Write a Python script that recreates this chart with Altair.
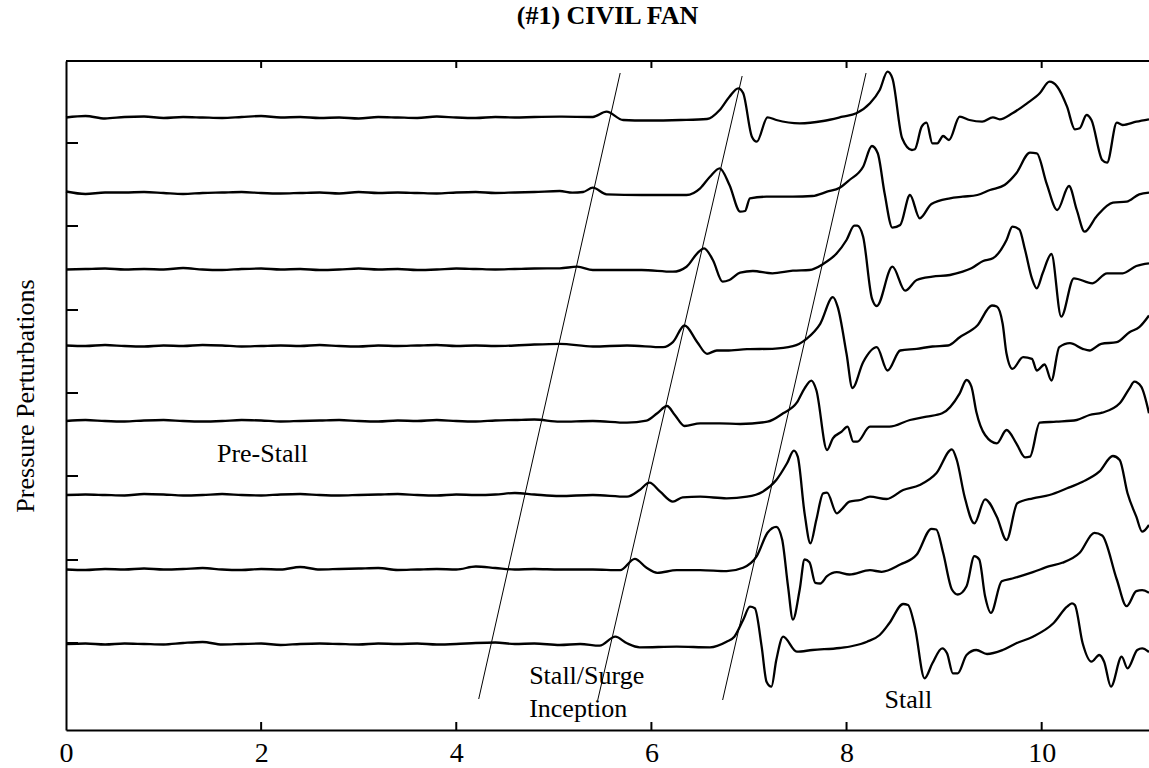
import altair as alt
import pandas as pd

TITLE = "(#1) CIVIL FAN"
Y_TITLE = "Pressure Perturbations"
X_TICKS = [0, 2, 4, 6, 8, 10]
TOP_TICKS = [2, 4, 6, 8, 10]
Y_TICKS = [87, 170, 254, 337, 420, 504, 587]
# vertical offset of each trace (bottom trace first)
OFFSETS = [86, 160.5, 235, 309, 384, 460.5, 537, 612.5]

# pre-stall part, shared time grid
FLAT_X = [0.0, 0.2, 0.4, 0.6, 0.8, 1.0, 1.2, 1.4, 1.6, 1.8, 2.0, 2.2, 2.4,
          2.6, 2.8, 3.0, 3.2, 3.4, 3.6, 3.8, 4.0, 4.2, 4.4, 4.6, 4.8]
T0_FLAT = [0, 0.5, -0.5, 0.5, 0, -0.5, 1.0, 2.0, -0.5, 0, 0.5, -1, 0, 0.5, 0, -0.5, 0.5, 0, 0.5, -0.5, 0, 1.0, 1.5, 0, 0.5]
T1_FLAT = [0, -0.5, 0.5, 0, 1, 0, 0.5, 1.5, 0, -0.5, 0.5, 0, 2.5, 0, 0.5, 1, 1.5, -0.5, 0, 0.5, 0, 3.0, 1.5, 0, 0.5]
T2_FLAT = [0, 0.5, 0, -0.5, 1, 0.5, -0.5, 0, 1, 0, -0.5, 0.5, 1, 0, -0.5, 0, 0.5, 1, 0, -0.5, 0.5, 0, 0.5, 2.0, 0.5]
T3_FLAT = [0, 1, 0, -0.5, 0.5, 1, 0, -0.5, 0, 1, 0.5, -0.5, 0, 0.5, 1, 0, -0.5, 0.5, 0, 1, 0, -0.5, 0.5, 1, 1.5]
T4_FLAT = [0.5, 0, 1, 0, -0.5, 0.5, 0, 1, 0.5, -0.5, 0, 0.5, 0, 1, 0, -0.5, 0.5, 0, 0.5, 1, 0, 0.5, 0, 0.5, 1.5]
T5_FLAT = [0, 0.5, 1, 0, 0.5, 0, 1.5, 0, -0.5, 0.5, 1, 0, 0.5, -0.5, 0, 1, 0, 0.5, -0.5, 0, 1, 0.5, 0, 0.5, 1.0]
T6_FLAT = [1.5, -1, 0.5, 0.5, 1, 0, -1, 0, 0.5, 1, 0, -0.5, 0, 0.5, -0.5, 1, 0, 0.5, 0, -0.5, 0.5, 1, 0, 0.5, 1]
T7_FLAT = [0, 1.5, -1, 0.5, 1, -0.5, 0.5, 0, -0.5, 0.5, 1.5, 0, 0.5, -0.5, 0, -1, 0.5, 0, -0.5, 1, 0, -0.5, 0.5, 0, 0.5]

# inception and stall part: (time, perturbation)
T0_PTS = [(5.06, -1), (5.27, 0), (5.47, -1.7), (5.63, 7.3), (5.75, 0.7), (5.88, -3.3), (6.26, -2.7),
          (6.60, -3.3), (6.77, 2.3), (6.85, 7.3), (6.94, 24), (7.01, 37.3), (7.06, 35.7), (7.13, -2.7),
          (7.18, -37.7), (7.23, -42.7), (7.28, -16), (7.35, 7.3), (7.49, -7.7), (7.65, -6), (7.93, -4),
          (8.06, -2), (8.21, 2.3), (8.34, 9), (8.44, 21), (8.58, 40), (8.63, 39), (8.70, 17.3),
          (8.80, -34.3), (8.88, -19.3), (8.98, -4.3), (9.03, -9.3), (9.09, -29.3), (9.14, -29.3),
          (9.23, -11), (9.33, -6), (9.44, -10), (9.60, -6), (9.74, 0.7), (9.91, 7.3), (10.12, 20.7),
          (10.26, 37.3), (10.31, 40.7), (10.34, 39), (10.42, 0.7), (10.51, -17.7), (10.59, -11),
          (10.64, -17.7), (10.71, -42.7), (10.82, -12.7), (10.88, -24.3), (10.98, -6), (11.03, -4.3),
          (11.10, -8)]
T1_PTS = [(5.06, 0), (5.40, 0), (5.68, -0.7), (5.83, 10.7), (5.95, 1.7), (6.06, -3.3), (6.26, -0.7),
          (6.50, -0.7), (6.77, -1.7), (6.94, 1.7), (7.08, 13.3), (7.19, 36.7), (7.28, 42.7), (7.34, 30),
          (7.40, -16.7), (7.45, -50), (7.52, -20), (7.57, 10), (7.62, 7.3), (7.68, -13.3), (7.73, -14),
          (7.80, -6.7), (7.90, -2.7), (8.03, -5), (8.24, -0.7), (8.36, -2.3), (8.55, 5), (8.72, 15),
          (8.87, 40.7), (8.92, 40), (8.99, 16.7), (9.08, -20), (9.14, -25), (9.23, -16.7), (9.31, 13.3),
          (9.36, 10), (9.42, -26.7), (9.48, -43.3), (9.59, -11.7), (9.70, -9), (9.91, -2.7), (10.08, 3.3),
          (10.21, 6.7), (10.39, 16.7), (10.54, 36.7), (10.62, 34), (10.77, -10), (10.87, -36.7),
          (10.97, -21.7), (11.03, -20.7), (11.10, -23.3)]
T2_PTS = [(5.06, -1), (5.40, 0), (5.75, -1.7), (5.88, 5), (5.98, 12.3), (6.09, 3.3), (6.22, -6.7),
          (6.32, -2.3), (6.50, -1.7), (6.77, -3.3), (6.98, -1.7), (7.14, 3.3), (7.28, 15), (7.39, 31.7),
          (7.46, 44.3), (7.50, 38.3), (7.57, -18.3), (7.63, -48.3), (7.69, -25), (7.76, 1.7), (7.80, 2.3),
          (7.90, -18.3), (7.96, -13.3), (8.03, -6.7), (8.14, -5), (8.24, -1.7), (8.41, -4), (8.58, 5),
          (8.75, 10), (8.92, 21.7), (9.08, 45.7), (9.13, 35), (9.21, -1.7), (9.31, -28.3), (9.42, -4.3),
          (9.54, -21.7), (9.64, -45), (9.75, -8.3), (9.91, -3.3), (10.08, 0), (10.26, 6.7), (10.42, 13.3),
          (10.59, 23.3), (10.73, 39), (10.80, 35), (10.88, 1.7), (10.97, -21.7), (11.03, -36.7),
          (11.10, -30)]
T3_PTS = [(5.06, -0.7), (5.40, 0), (5.75, -1.7), (5.95, 0.3), (6.06, 7.7), (6.16, 15), (6.24, 6),
          (6.34, -5), (6.50, -2.3), (6.70, -2.3), (6.91, -3), (7.19, -0.7), (7.35, 7.7), (7.49, 18.3),
          (7.57, 32.7), (7.64, 40.3), (7.69, 31), (7.80, -29), (7.86, -17.3), (7.95, -10.7), (8.01, -5.7),
          (8.07, -20.7), (8.11, -20.7), (8.24, -5.7), (8.44, -5.7), (8.65, 1), (8.82, 4.3), (8.98, 7.7),
          (9.16, 27.7), (9.23, 41), (9.28, 34.3), (9.33, 9.3), (9.42, -14), (9.54, -22.3), (9.64, -9),
          (9.74, -22.3), (9.83, -36.3), (9.88, -35.7), (9.98, -1.7), (10.15, -0.7), (10.36, 1),
          (10.49, 6), (10.62, 8.3), (10.80, 17.7), (10.90, 32.7), (10.95, 39.3), (11.02, 34.3),
          (11.10, 7.7)]
T4_PTS = [(5.06, 2.2), (5.40, -0.5), (5.75, 0.5), (6.12, -1.2), (6.22, 3.8), (6.34, 20.5), (6.47, 3.8),
          (6.57, -7.8), (6.67, -4.5), (6.77, -4.5), (6.98, -3.2), (7.24, -2.8), (7.45, -0.2), (7.59, 7.2),
          (7.73, 22.2), (7.86, 48.8), (7.91, 38.8), (8.00, -7.8), (8.06, -42), (8.17, -16.2),
          (8.31, -1.2), (8.42, -24.5), (8.55, -4.5), (8.72, -2.8), (8.88, -0.5), (9.04, 0.5),
          (9.16, 8.8), (9.34, 20.5), (9.49, 40.5), (9.54, 39.5), (9.60, 22.2), (9.64, -7.8),
          (9.70, -22.8), (9.81, -11.2), (9.90, -12.8), (9.95, -24.5), (10.03, -18.5), (10.10, -34.5),
          (10.18, -1.2), (10.29, 2.8), (10.42, -2.8), (10.49, -4.5), (10.61, 2.2), (10.77, 3.8),
          (10.90, 13.8), (11.00, 18.8), (11.10, 30.5)]
T5_PTS = [(5.06, 1.2), (5.24, 2.8), (5.40, -0.5), (5.90, -0.5), (6.22, -2.2), (6.36, 2.8), (6.47, 16.2),
          (6.54, 21.2), (6.63, 9.5), (6.73, -12.2), (6.80, -10.5), (6.91, -3.2), (7.04, -1.5),
          (7.24, -3.8), (7.45, -1.2), (7.62, -0.5), (7.76, 5.5), (7.90, 16.2), (8.00, 29.5),
          (8.08, 43.8), (8.11, 43.8), (8.17, 32.8), (8.26, -28.8), (8.31, -36.5), (8.47, 2.8),
          (8.60, -21.2), (8.72, -10.5), (8.88, -7.2), (9.06, -5.5), (9.19, -2.2), (9.28, 1.2),
          (9.40, 8.5), (9.50, 11.2), (9.64, 29.5), (9.70, 42.8), (9.77, 40.2), (9.83, 19.5),
          (9.90, -8.8), (9.95, -18.8), (10.01, -3.8), (10.10, 15.5), (10.20, -47.2), (10.33, -8.8),
          (10.52, -13.8), (10.67, -3.8), (10.83, -3.8), (10.97, 3.5), (11.10, 6.2)]
T6_PTS = [(5.06, 2), (5.19, 0.3), (5.30, 1), (5.40, 5.3), (5.54, -1.3), (5.90, -2), (6.36, -2),
          (6.50, 4.7), (6.60, 16.3), (6.70, 24.7), (6.80, 8), (6.91, -18.7), (6.96, -18), (7.01, -5.3),
          (7.18, -3.7), (7.45, -3.7), (7.65, -3), (7.80, 1.3), (7.93, 5.3), (8.03, 13), (8.17, 26.3),
          (8.26, 47), (8.32, 39.7), (8.39, -0.3), (8.47, -34.7), (8.55, -32), (8.65, -2), (8.75, -25.3),
          (8.87, -11), (9.06, -5.3), (9.19, -3.7), (9.34, -2), (9.47, 3), (9.62, 8), (9.74, 19.7),
          (9.88, 40.3), (9.95, 39.7), (10.05, 9.7), (10.16, -17), (10.28, 7), (10.36, -17),
          (10.44, -38.7), (10.56, -23.7), (10.73, -9.7), (10.87, -8.7), (11.00, -1.3), (11.10, 0.3)]
T7_PTS = [(5.06, 0.8), (5.40, 0.5), (5.54, 5.8), (5.71, -2.5), (5.95, -3), (6.30, -2.5), (6.57, -1.5),
          (6.70, 7.5), (6.80, 20.8), (6.89, 29.2), (6.94, 24.5), (7.03, -19.2), (7.08, -24.2),
          (7.19, 0.2), (7.28, -2.5), (7.52, -5.8), (7.76, -3.5), (7.96, 0.8), (8.10, 4.2), (8.24, 14.2),
          (8.34, 27.5), (8.42, 45.8), (8.47, 39.2), (8.57, -20.8), (8.67, -32.5), (8.70, -31.8),
          (8.77, -9.2), (8.82, -5.2), (8.88, -25.8), (8.93, -25.8), (8.99, -18.5), (9.05, -22.5),
          (9.16, 0.8), (9.26, -2.5), (9.39, -4.2), (9.50, 0.2), (9.57, -1.8), (9.70, 4.2), (9.85, 14.2),
          (9.98, 24.2), (10.08, 35.8), (10.16, 30.8), (10.26, 10.8), (10.34, -11.8), (10.39, -10.8),
          (10.46, 2.5), (10.51, -2.5), (10.62, -42.5), (10.67, -45.2), (10.77, -5.2), (10.83, -7.5),
          (10.97, -4.2), (11.10, -1.8)]

FLATS = [T0_FLAT, T1_FLAT, T2_FLAT, T3_FLAT, T4_FLAT, T5_FLAT, T6_FLAT, T7_FLAT]
PTS = [T0_PTS, T1_PTS, T2_PTS, T3_PTS, T4_PTS, T5_PTS, T6_PTS, T7_PTS]

# slanted guide lines (start and end points)
GUIDE_X1 = [4.23, 5.45, 6.73]
GUIDE_Y1 = [31, 30, 30]
GUIDE_X2 = [5.68, 6.93, 8.20]
GUIDE_Y2 = [657, 654, 657]

LABELS = ["Pre-Stall", "Stall/Surge", "Inception", "Stall"]
LABEL_X = [1.547, 4.747, 4.747, 8.39]
LABEL_Y = [268, 46, 13.3, 22]

rows = []
for k, (flat, pts) in enumerate(zip(FLATS, PTS)):
    for x, d in zip(FLAT_X, flat):
        rows.append({"t": x, "p": OFFSETS[k] + d, "trace": k})
    for x, d in pts:
        rows.append({"t": x, "p": OFFSETS[k] + d, "trace": k})
traces = pd.DataFrame(rows)

guides = pd.DataFrame({"t": GUIDE_X1, "p": GUIDE_Y1, "t2": GUIDE_X2, "p2": GUIDE_Y2})
labels = pd.DataFrame({"t": LABEL_X, "p": LABEL_Y, "label": LABELS})
yticks = pd.DataFrame({"p": Y_TICKS})
xticks = pd.DataFrame({"t": TOP_TICKS})

W, H = 1083, 669
FONT = "Liberation Serif"

xscale = alt.Scale(domain=[0, 11.1], nice=False, zero=False)
yscale = alt.Scale(domain=[0, 669], nice=False, zero=False)

X = alt.X("t:Q", scale=xscale,
          axis=alt.Axis(values=X_TICKS, title=None, grid=False, ticks=False,
                        labelFont=FONT, labelFontSize=28, labelColor="black",
                        labelPadding=9, labelFlush=False, labelOverlap=False,
                        domainColor="black", domainWidth=2, format="d"))
Y = alt.Y("p:Q", scale=yscale,
          axis=alt.Axis(title=Y_TITLE, labels=False, ticks=False, grid=False,
                        domainColor="black", domainWidth=2,
                        titleFont=FONT, titleFontSize=26, titleFontWeight="normal",
                        titleColor="black", titleAngle=270, titleX=-33, titleY=H / 2,
                        titleAlign="center", titleBaseline="alphabetic"))

lines = alt.Chart(traces).mark_line(color="black", strokeWidth=2.3, interpolate="monotone",
                                    strokeJoin="round").encode(
    x=X, y=Y, detail="trace:N", order="t:Q")

guide_layer = alt.Chart(guides).mark_rule(color="black", strokeWidth=1).encode(
    x=X, y=Y, x2="t2:Q", y2="p2:Q")

text_layer = alt.Chart(labels).mark_text(
    align="left", baseline="alphabetic", font=FONT, fontSize=26, color="black").encode(
    x=X, y=Y, text="label:N")

ytick_layer = alt.Chart(yticks).mark_rule(color="black", strokeWidth=2).encode(
    y=Y, x=alt.value(0), x2=alt.value(12))

bottom_ticks = alt.Chart(xticks).mark_rule(color="black", strokeWidth=2).encode(
    x=X, y=alt.value(H), y2=alt.value(H - 8))
top_ticks = alt.Chart(xticks).mark_rule(color="black", strokeWidth=2).encode(
    x=X, y=alt.value(0), y2=alt.value(7))
top_border = alt.Chart(xticks).mark_rule(color="black", strokeWidth=2).encode(
    x=alt.value(0), x2=alt.value(W), y=alt.value(0))

chart = alt.layer(
    lines, guide_layer, text_layer, ytick_layer, bottom_ticks, top_ticks, top_border
).properties(
    width=W, height=H,
    title=alt.TitleParams(TITLE, font=FONT, fontSize=26, fontWeight="bold", color="black",
                          anchor="middle", baseline="alphabetic", offset=10),
    autosize=alt.AutoSizeParams(type="none"),
    padding={"left": 66, "top": 61, "right": 0, "bottom": 38},
    background="white",
).configure_view(stroke=None)

chart.save("out.html", embed_options={"renderer": "svg", "actions": False})
